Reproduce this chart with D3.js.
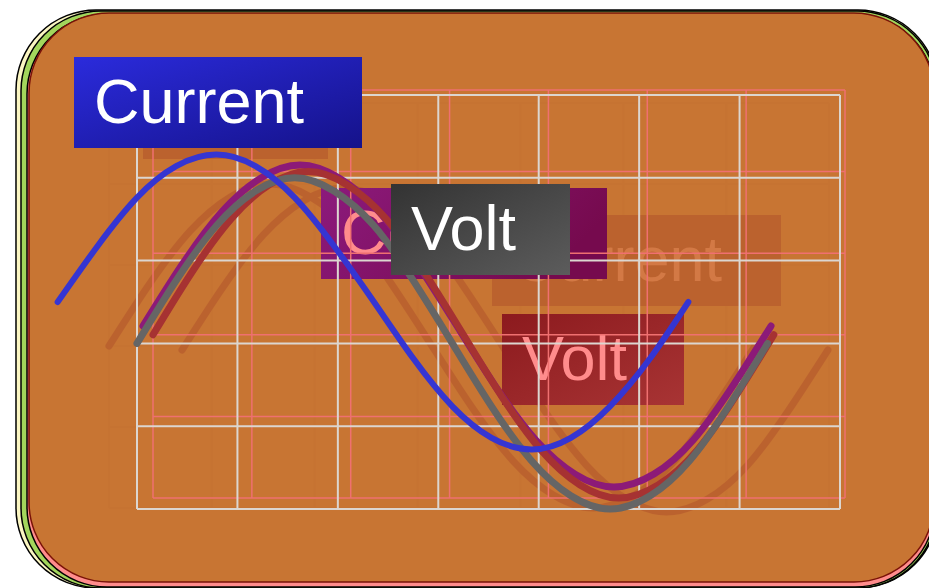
<!DOCTYPE html>
<html>
<head>
<meta charset="utf-8">
<script src="https://cdn.jsdelivr.net/npm/d3@7"></script>
<style>
  body { margin: 0; background: #fff; }
  svg { display: block; font-family: "Liberation Sans", Arial, sans-serif; }
</style>
</head>
<body>
<div id="chart"></div>
<script>
const width = 929, height = 588;

// values
const xTicks = [0, 1, 2, 3, 4, 5, 6, 7];
const yTicks = [-1, -0.5, 0, 0.5, 1, 1.5];
const seriesNames = ["Current", "Volt"];
const voltX = [0, 0.39, 0.79, 1.18, 1.57, 1.96, 2.36, 2.75, 3.14, 3.53, 3.93, 4.32, 4.71, 5.11, 5.50, 5.89, 6.28];
const voltY = [0, 0.38, 0.71, 0.92, 1, 0.92, 0.71, 0.38, 0, -0.38, -0.71, -0.92, -1, -0.92, -0.71, -0.38, 0];
const currentX = [-0.79, -0.39, 0, 0.39, 0.79, 1.18, 1.57, 1.96, 2.36, 2.75, 3.14, 3.53, 3.93, 4.32, 4.71, 5.11, 5.49];
const currentY = [0.25, 0.59, 0.88, 1.07, 1.14, 1.07, 0.88, 0.59, 0.25, -0.09, -0.38, -0.57, -0.64, -0.57, -0.38, -0.09, 0.25];

const svg = d3.select("#chart")
  .append("svg")
    .attr("width", width)
    .attr("height", height);

const defs = svg.append("defs");
const addGradient = (id, from, to, x2, y2) => {
  const g = defs.append("linearGradient")
    .attr("id", id)
    .attr("x1", 0).attr("y1", 0).attr("x2", x2).attr("y2", y2);
  g.append("stop").attr("offset", "0%").attr("stop-color", from);
  g.append("stop").attr("offset", "100%").attr("stop-color", to);
};
addGradient("gBlue", "#2b2bdc", "#15128a", 1, 1);
addGradient("gGray", "#333333", "#5c5c5c", 1, 1);
addGradient("gPurple", "#8c1a7c", "#760a4e", 1, 0.3);
addGradient("gRed", "#8c1a1e", "#a83434", 1, 1);

// stacked cards behind the chart
const cards = [
  { x: 16, y: 10, w: 922, h: 578, fill: "#fbf6c2", stroke: "#000" },
  { x: 21, y: 11, w: 916, h: 577, fill: "#a3d65c", stroke: "#000" },
  { x: 27, y: 14, w: 908, h: 573, fill: "#ff8c8c", stroke: "#000" },
  { x: 29, y: 13, w: 905, h: 569, fill: "#c87533", stroke: "#7a1208" }
];
svg.selectAll(".card")
  .data(cards)
  .join("rect")
    .attr("class", "card")
    .attr("x", d => d.x).attr("y", d => d.y)
    .attr("width", d => d.w).attr("height", d => d.h)
    .attr("rx", 80).attr("ry", 80)
    .attr("fill", d => d.fill)
    .attr("stroke", d => d.stroke)
    .attr("stroke-width", 1.5);

const makeScales = (x0, x1, y0, y1) => ({
  x: d3.scaleLinear().domain([0, 7]).range([x0, x1]),
  y: d3.scaleLinear().domain([-1, 1.5]).range([y0, y1])
});

const drawGrid = (g, s, color, w) => {
  g.selectAll(null).data(xTicks).join("line")
    .attr("x1", d => s.x(d)).attr("x2", d => s.x(d))
    .attr("y1", s.y(-1)).attr("y2", s.y(1.5))
    .attr("stroke", color).attr("stroke-width", w);
  g.selectAll(null).data(yTicks).join("line")
    .attr("y1", d => s.y(d)).attr("y2", d => s.y(d))
    .attr("x1", s.x(0)).attr("x2", s.x(7))
    .attr("stroke", color).attr("stroke-width", w);
};

const drawCurve = (g, s, xs, ys, color, w) => {
  const line = d3.line()
    .x(d => s.x(d[0]))
    .y(d => s.y(d[1]))
    .curve(d3.curveNatural);
  g.append("path")
    .datum(d3.zip(xs, ys))
    .attr("d", line)
    .attr("fill", "none")
    .attr("stroke", color)
    .attr("stroke-width", w)
    .attr("stroke-linecap", "round")
    .attr("stroke-linejoin", "round");
};

const drawLabel = (g, text, x, y, w, fill, color) => {
  const lg = g.append("g").attr("transform", `translate(${x},${y})`);
  lg.append("rect")
    .attr("width", w).attr("height", 91)
    .attr("fill", fill);
  lg.append("text")
    .attr("x", 20).attr("y", 66)
    .attr("font-size", 63)
    .attr("fill", color)
    .text(text);
};

// scales for each copy of the chart
const topS = makeScales(137, 840, 509, 95);
const pinkS = makeScales(153, 845, 498, 90);
const purpleS = makeScales(143, 843, 487, 84.5);
const ghostS = makeScales(109, 829, 508, 103);
const ghost2S = makeScales(182, 902, 512, 107);

// faint ghost copy
const ghost = svg.append("g").attr("opacity", 0.2);
drawGrid(ghost.append("g").attr("opacity", 0.08), ghostS, "#8c1a1e", 2);
drawCurve(ghost, ghostS, voltX, voltY, "#8c1a1e", 7);
drawCurve(ghost, ghost2S, voltX, voltY, "#8c1a1e", 7);
drawLabel(ghost, seriesNames[1], 143, 68, 185, "#8c1a1e", "#ff8c8c");
drawLabel(ghost, seriesNames[0], 492, 215, 289, "#8c1a1e", "#ff8c8c");

// second copy: labels behind the grids
const midLayer = svg.append("g");
drawLabel(midLayer, seriesNames[0], 321, 188, 286, "url(#gPurple)", "#ff8c8c");
drawLabel(midLayer, seriesNames[1], 502, 314, 182, "url(#gRed)", "#ff8c8c");

drawGrid(svg.append("g"), pinkS, "#ef7070", 1.5);
drawGrid(svg.append("g"), topS, "#dcd6d0", 2);

const curves = svg.append("g");
drawCurve(curves, purpleS, voltX, voltY, "#8c1a78", 7);
drawCurve(curves, pinkS, voltX, voltY, "#a63232", 7);
drawCurve(curves, topS, voltX, voltY, "#656565", 7);
drawCurve(curves, topS, currentX, currentY, "#3535d2", 6);

const topLayer = svg.append("g");
drawLabel(topLayer, seriesNames[1], 391, 184, 179, "url(#gGray)", "#ffffff");
drawLabel(topLayer, seriesNames[0], 74, 57, 288, "url(#gBlue)", "#ffffff");
</script>
</body>
</html>
